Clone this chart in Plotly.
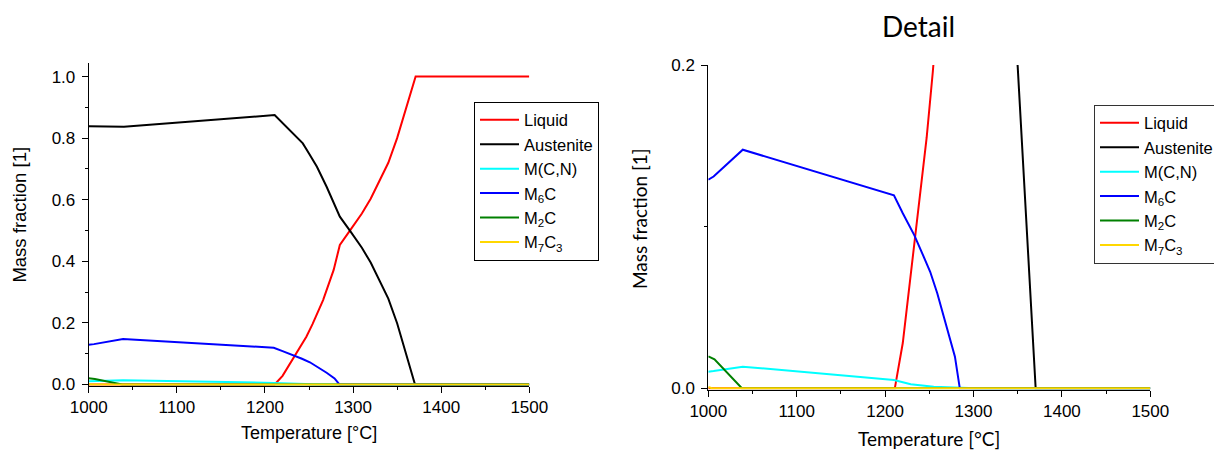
import plotly.graph_objects as go

# ---------------- data ----------------
liquid_T = [1000, 1211, 1220, 1228, 1234, 1247, 1254, 1266, 1278, 1285, 1297, 1310, 1320, 1330, 1340, 1350, 1360, 1371, 1500]
liquid = [0.0, 0.0, 0.028, 0.065, 0.092, 0.155, 0.196, 0.274, 0.372, 0.453, 0.502, 0.555, 0.603, 0.660, 0.720, 0.800, 0.895, 1.0, 1.0]

austenite_T = [1000, 1040, 1211, 1228, 1243, 1250, 1259, 1270, 1278, 1285, 1297, 1310, 1320, 1330, 1340, 1350, 1360, 1370.3, 1500]
austenite = [0.839, 0.837, 0.875, 0.826, 0.783, 0.750, 0.707, 0.642, 0.588, 0.545, 0.497, 0.444, 0.396, 0.340, 0.279, 0.199, 0.104, 0.0, 0.0]

mcn_T = [1000, 1006, 1039, 1210, 1229, 1255, 1286, 1303, 1500]
mcn = [0.0103, 0.0107, 0.0134, 0.0051, 0.0025, 0.001, 0.0004, 0.0, 0.0]

m6c_T = [1000, 1006, 1039, 1210, 1220, 1233, 1242, 1251, 1259, 1270, 1279, 1284.5, 1500]
m6c = [0.129, 0.131, 0.1476, 0.1194, 0.1083, 0.0948, 0.0835, 0.0721, 0.0588, 0.0381, 0.0196, 0.0, 0.0]

m2c_T = [1000, 1007, 1038, 1500]
m2c = [0.0198, 0.0179, 0.0, 0.0]

m7c3_T = [1000, 1004, 1500]
m7c3 = [0.0008, 0.0, 0.0]

phase_names = ["Liquid", "Austenite", "M(C,N)", "M<sub>6</sub>C", "M<sub>2</sub>C", "M<sub>7</sub>C<sub>3</sub>"]
phase_colors = ["#FF0000", "#000000", "#00FFFF", "#0000FF", "#008000", "#FFD700"]
series_T = [liquid_T, austenite_T, mcn_T, m6c_T, m2c_T, m7c3_T]
series_v = [liquid, austenite, mcn, m6c, m2c, m7c3]

x_ticks = [1000, 1100, 1200, 1300, 1400, 1500]

# ---------------- figure ----------------
W, H = 1222, 450
OFF = 8  # the page body margin offsets the figure by 8px


def fx(px):
    return (px - OFF) / W


def fy(py):
    return 1 - (py - OFF) / H


fig = go.Figure()

for name, col, xs, ys in zip(phase_names, phase_colors, series_T, series_v):
    fig.add_trace(go.Scatter(x=xs, y=ys, mode="lines", name=name,
                             line=dict(color=col, width=2),
                             xaxis="x", yaxis="y", legend="legend"))
for name, col, xs, ys in zip(phase_names, phase_colors, series_T, series_v):
    fig.add_trace(go.Scatter(x=xs, y=ys, mode="lines", name=name,
                             line=dict(color=col, width=2),
                             xaxis="x2", yaxis="y2", legend="legend2"))

tickfont = dict(family="Liberation Sans, Arial", size=17, color="#000")
axis_common = dict(showline=True, linecolor="#000", linewidth=1, ticks="outside",
                   tickcolor="#000", showgrid=False, zeroline=False, tickfont=tickfont,
                   automargin=False)
legend_font = dict(family="Liberation Sans, Arial", size=16.5, color="#000")

fig.update_layout(
    template="none",
    width=W, height=H, autosize=False,
    margin=dict(l=0, r=0, t=0, b=0, pad=0),
    font=dict(family="Liberation Sans, Arial", color="#000"),
    paper_bgcolor="white", plot_bgcolor="white",
    xaxis=dict(domain=[fx(88.7), fx(529.3)], range=[1000, 1500], tickvals=x_ticks,
               ticklen=6, minor=dict(dtick=50, ticklen=3, ticks="outside", tickcolor="#000"),
               anchor="y", **axis_common),
    yaxis=dict(domain=[fy(385.7), fy(62.7)], range=[-0.004, 1.045], dtick=0.2,
               tick0=0, tickformat=".1f", ticklen=6, ticklabelstandoff=3,
               minor=dict(dtick=0.1, ticklen=3, ticks="outside", tickcolor="#000"),
               anchor="x", **axis_common),
    xaxis2=dict(domain=[fx(708.3), fx(1150.3)], range=[1000, 1500], tickvals=x_ticks,
                ticklen=6, minor=dict(dtick=50, ticklen=3, ticks="outside", tickcolor="#000"),
                anchor="y2", **axis_common),
    yaxis2=dict(domain=[fy(389.6), fy(65)], range=[-0.0008, 0.2], tickvals=[0, 0.2],
                tickformat=".1f", ticklen=6, ticklabelstandoff=3,
                minor=dict(tickvals=[0.1], ticklen=3, ticks="outside", tickcolor="#000"),
                anchor="x2", **axis_common),
    legend=dict(x=fx(474), y=fy(181), xanchor="left", yanchor="middle",
                bordercolor="#000", borderwidth=1, bgcolor="white",
                font=legend_font, itemwidth=39, tracegroupgap=0),
    legend2=dict(x=fx(1094), y=fy(184), xanchor="left", yanchor="middle",
                 bordercolor="#333", borderwidth=1, bgcolor="white",
                 font=legend_font, itemwidth=39, tracegroupgap=0),
    showlegend=True,
)

detail_font = dict(family="Lato", size=19, color="#000")
fig.add_annotation(text="Mass fraction [1]", x=fx(19.6), y=fy(215), xref="paper", yref="paper",
                   textangle=-90, showarrow=False, xanchor="center", yanchor="middle",
                   font=dict(family="Liberation Sans, Arial", size=18.5, color="#000"))
fig.add_annotation(text="Temperature [°C]", x=fx(309), y=fy(433), xref="paper", yref="paper",
                   showarrow=False, xanchor="center", yanchor="middle",
                   font=dict(family="Liberation Sans, Arial", size=18, color="#000"))
fig.add_annotation(text="Mass fraction [1]", x=fx(639), y=fy(219), xref="paper", yref="paper",
                   textangle=-90, showarrow=False, xanchor="center", yanchor="middle", font=detail_font)
fig.add_annotation(text="Temperature [°C]", x=fx(929), y=fy(438), xref="paper", yref="paper",
                   showarrow=False, xanchor="center", yanchor="middle", font=detail_font)
fig.add_annotation(text="Detail", x=fx(918), y=fy(26), xref="paper", yref="paper",
                   showarrow=False, xanchor="center", yanchor="middle",
                   font=dict(family="Lato", size=28, color="#000"))

fig.write_html("out.html")
